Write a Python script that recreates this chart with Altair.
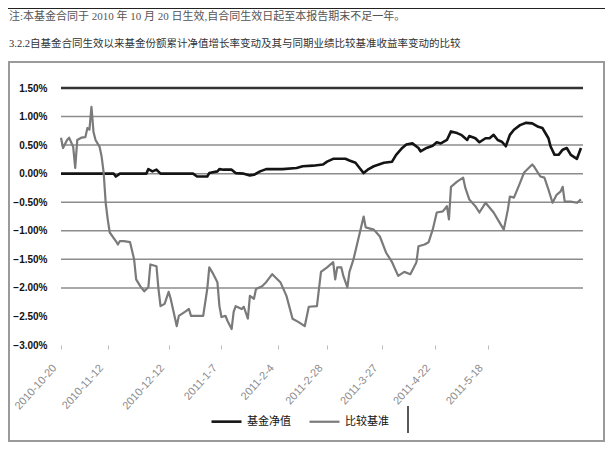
import altair as alt
import pandas as pd

# ---------------- data ----------------
series_names = ["基金净值", "比较基准"]

fund_dates = ["2010-10-20", "2010-11-15", "2010-11-16", "2010-11-18", "2010-12-01", "2010-12-02",
              "2010-12-04", "2010-12-06", "2010-12-08", "2010-12-24", "2010-12-26", "2010-12-31",
              "2011-01-01", "2011-01-05", "2011-01-06", "2011-01-08", "2011-01-12", "2011-01-14",
              "2011-01-18", "2011-01-21", "2011-01-23", "2011-01-26", "2011-01-29", "2011-02-06",
              "2011-02-13", "2011-02-16", "2011-02-21", "2011-02-26", "2011-02-28", "2011-03-03",
              "2011-03-09", "2011-03-11", "2011-03-14", "2011-03-16", "2011-03-18", "2011-03-20",
              "2011-03-23", "2011-03-28", "2011-04-01", "2011-04-03", "2011-04-06", "2011-04-08",
              "2011-04-11", "2011-04-14", "2011-04-15", "2011-04-18", "2011-04-21", "2011-04-23",
              "2011-04-25", "2011-04-28", "2011-04-30", "2011-05-03", "2011-05-05", "2011-05-08",
              "2011-05-09", "2011-05-12", "2011-05-14", "2011-05-17", "2011-05-19", "2011-05-21",
              "2011-05-23", "2011-05-25", "2011-05-27", "2011-05-29", "2011-05-31", "2011-06-03",
              "2011-06-06", "2011-06-09", "2011-06-12", "2011-06-14", "2011-06-17", "2011-06-18",
              "2011-06-20", "2011-06-22", "2011-06-24", "2011-06-26", "2011-06-28", "2011-07-01",
              "2011-07-03"]
fund_vals = [0.00, 0.00, -0.05, 0.00, 0.00, 0.08,
             0.04, 0.07, 0.00, 0.00, -0.05, -0.05,
             0.01, 0.04, 0.08, 0.07, 0.07, 0.01,
             0.00, -0.03, -0.02, 0.04, 0.08, 0.08,
             0.10, 0.13, 0.14, 0.16, 0.21, 0.26,
             0.26, 0.23, 0.19, 0.10, 0.01, 0.07,
             0.13, 0.19, 0.21, 0.33, 0.45, 0.51,
             0.53, 0.45, 0.39, 0.45, 0.49, 0.55,
             0.53, 0.59, 0.74, 0.71, 0.68, 0.59,
             0.66, 0.62, 0.55, 0.62, 0.62, 0.68,
             0.59, 0.56, 0.48, 0.68, 0.77, 0.85,
             0.89, 0.88, 0.82, 0.80, 0.62, 0.48,
             0.33, 0.33, 0.42, 0.45, 0.33, 0.26,
             0.45]

bench_dates = ["2010-10-20", "2010-10-21", "2010-10-23", "2010-10-24", "2010-10-26", "2010-10-27",
               "2010-10-28", "2010-10-30", "2010-11-01", "2010-11-02", "2010-11-03", "2010-11-04",
               "2010-11-05", "2010-11-06", "2010-11-08", "2010-11-09", "2010-11-10", "2010-11-11",
               "2010-11-12", "2010-11-13", "2010-11-16", "2010-11-17", "2010-11-18", "2010-11-20",
               "2010-11-23", "2010-11-25", "2010-11-26", "2010-11-28", "2010-11-30", "2010-12-02",
               "2010-12-03", "2010-12-06", "2010-12-07", "2010-12-08", "2010-12-10", "2010-12-12",
               "2010-12-13", "2010-12-16", "2010-12-17", "2010-12-20", "2010-12-22", "2010-12-23",
               "2010-12-26", "2010-12-29", "2010-12-31", "2011-01-01", "2011-01-03", "2011-01-05",
               "2011-01-06", "2011-01-07", "2011-01-09", "2011-01-10", "2011-01-12", "2011-01-13",
               "2011-01-14", "2011-01-17", "2011-01-18", "2011-01-20", "2011-01-21", "2011-01-23",
               "2011-01-24", "2011-01-27", "2011-01-29", "2011-02-01", "2011-02-05", "2011-02-08",
               "2011-02-11", "2011-02-14", "2011-02-17", "2011-02-19", "2011-02-23", "2011-02-25",
               "2011-02-28", "2011-03-03", "2011-03-04", "2011-03-05", "2011-03-07", "2011-03-08",
               "2011-03-10", "2011-03-11", "2011-03-13", "2011-03-15", "2011-03-18", "2011-03-19",
               "2011-03-23", "2011-03-26", "2011-03-29", "2011-04-01", "2011-04-04", "2011-04-07",
               "2011-04-10", "2011-04-13", "2011-04-14", "2011-04-17", "2011-04-19", "2011-04-21",
               "2011-04-23", "2011-04-26", "2011-04-28", "2011-04-29", "2011-04-30", "2011-05-03",
               "2011-05-06", "2011-05-07", "2011-05-09", "2011-05-12", "2011-05-14", "2011-05-17",
               "2011-05-21", "2011-05-23", "2011-05-26", "2011-05-28", "2011-05-29", "2011-05-31",
               "2011-06-03", "2011-06-05", "2011-06-09", "2011-06-10", "2011-06-13", "2011-06-15",
               "2011-06-17", "2011-06-19", "2011-06-21", "2011-06-23", "2011-06-24", "2011-06-25",
               "2011-06-28", "2011-07-01", "2011-07-03"]
bench_vals = [0.63, 0.45, 0.59, 0.63, 0.47, 0.10,
              0.59, 0.63, 0.64, 0.80, 0.77, 1.17,
              0.73, 0.59, 0.47, 0.30, 0.02, -0.51,
              -0.80, -1.03, -1.18, -1.24, -1.18, -1.18,
              -1.20, -1.50, -1.85, -1.97, -2.06, -1.99,
              -1.59, -1.62, -2.02, -2.32, -2.28, -2.07,
              -2.19, -2.67, -2.49, -2.42, -2.37, -2.49,
              -2.49, -2.49, -2.02, -1.64, -1.76, -1.90,
              -2.32, -2.51, -2.49, -2.58, -2.72, -2.42,
              -2.32, -2.37, -2.33, -2.54, -2.14, -2.19,
              -2.02, -1.97, -1.90, -1.76, -1.90, -2.14,
              -2.54, -2.60, -2.67, -2.33, -2.32, -1.72,
              -1.64, -1.55, -1.85, -1.64, -1.64, -1.79,
              -1.99, -1.72, -1.50, -1.20, -0.75, -0.94,
              -0.98, -1.10, -1.38, -1.55, -1.79, -1.72,
              -1.76, -1.55, -1.27, -1.24, -1.20, -0.98,
              -0.68, -0.66, -0.57, -0.80, -0.23, -0.14,
              -0.07, -0.24, -0.45, -0.57, -0.68, -0.51,
              -0.68, -0.80, -0.98, -0.63, -0.40, -0.42,
              -0.16, 0.02, 0.16, 0.12, -0.05, -0.07,
              -0.28, -0.51, -0.37, -0.31, -0.23, -0.49,
              -0.49, -0.51, -0.45]

y_ticks = [1.5, 1.0, 0.5, 0.0, -0.5, -1.0, -1.5, -2.0, -2.5, -3.0]
grid_vals = [1.0, 0.5, 0.0, -0.5, -1.0, -1.5, -2.0]
top_grid = [1.5]
# dates at which the category labels of the original axis sit
x_tick_dates = [(2010, 10, 20), (2010, 11, 12), (2010, 12, 12), (2011, 1, 7), (2011, 2, 4),
                (2011, 2, 28), (2011, 3, 27), (2011, 4, 22), (2011, 5, 18)]

note_text = "注:本基金合同于 2010 年 10 月 20 日生效,自合同生效日起至本报告期末不足一年。"
section_text = "3.2.2自基金合同生效以来基金份额累计净值增长率变动及其与同期业绩比较基准收益率变动的比较"

# ---------------- build tables ----------------
df = pd.concat([
    pd.DataFrame({"date": pd.to_datetime(fund_dates), "value": fund_vals, "series": series_names[0]}),
    pd.DataFrame({"date": pd.to_datetime(bench_dates), "value": bench_vals, "series": series_names[1]}),
], ignore_index=True)

CJK = "'Liberation Serif', 'Noto Sans CJK SC', sans-serif"
LAT = "'Liberation Sans', 'Noto Sans CJK SC', sans-serif"

y_scale = alt.Scale(domain=[-3.0, 1.5], nice=False, zero=False)
x_scale = alt.Scale(domain=[alt.DateTime(year=2010, month=10, date=20),
                            alt.DateTime(year=2011, month=7, date=4)], nice=False)

y_axis = alt.Axis(values=y_ticks, labelExpr="format(datum.value, '.2f') + '%'",
                  grid=False, domain=False, ticks=False, labelPadding=14,
                  labelFont=LAT, labelFontSize=10, labelFontWeight="bold",
                  labelColor="#111111", title=None)

frame = alt.Chart(pd.DataFrame({"k": [0]})).mark_rect(
    fillOpacity=0, stroke="#9a9a9a", strokeWidth=2
).encode(x=alt.value(-52), x2=alt.value(543), y=alt.value(-26), y2=alt.value(353))

table_line = alt.Chart(pd.DataFrame({"k": [0]})).mark_rule(
    color="#222222", strokeWidth=1.2
).encode(x=alt.value(-53), x2=alt.value(544), y=alt.value(-79.6))

note = alt.Chart(pd.DataFrame({"t": [note_text]})).mark_text(
    align="left", baseline="middle", font=CJK, fontSize=11, color="#555555"
).encode(x=alt.value(-52), y=alt.value(-71), text="t:N")

section = alt.Chart(pd.DataFrame({"t": [section_text]})).mark_text(
    align="left", baseline="middle", font=CJK, fontSize=10.5, color="#333333"
).encode(x=alt.value(-52), y=alt.value(-44), text="t:N")

grid = alt.Chart(pd.DataFrame({"value": grid_vals})).mark_rule(
    color="#8c8c8c", strokeWidth=1.5
).encode(y=alt.Y("value:Q", scale=y_scale, axis=y_axis))

grid_top = alt.Chart(pd.DataFrame({"value": top_grid})).mark_rule(
    color="#333333", strokeWidth=2.5
).encode(y=alt.Y("value:Q", scale=y_scale, axis=y_axis))

lines = alt.Chart(df).mark_line(strokeJoin="round").encode(
    x=alt.X("date:T", scale=x_scale, axis=alt.Axis(
        values=[alt.DateTime(year=y, month=m, date=d) for (y, m, d) in x_tick_dates],
        labelExpr="year(datum.value) + '-' + (month(datum.value) + 1) + '-' + date(datum.value)",
        labelAngle=-48, labelAlign="right", labelBaseline="top",
        labelPadding=13, labelOffset=-11, labelOverlap=False, labelFlush=False,
        domain=False, grid=False, ticks=True, tickSize=4, tickColor="#bbbbbb",
        labelFont=LAT, labelFontSize=11, labelColor="#8a8a8a", title=None)),
    y=alt.Y("value:Q", scale=y_scale, axis=y_axis),
    color=alt.Color("series:N", sort=series_names,
                    scale=alt.Scale(domain=series_names, range=["#141414", "#7a7a7a"]),
                    legend=alt.Legend(orient="none", legendX=149, legendY=317, direction="horizontal",
                                      title=None, symbolType="stroke", symbolSize=900,
                                      symbolStrokeWidth=2, labelFont=CJK, labelFontSize=11,
                                      labelColor="#111111", columnPadding=14, labelLimit=0)),
    strokeWidth=alt.StrokeWidth("series:N", scale=alt.Scale(domain=series_names, range=[2.6, 2.2]),
                                legend=None),
    order=alt.Order("date:T"),
)

cursor = alt.Chart(pd.DataFrame({"k": [0]})).mark_rule(color="#222222", strokeWidth=1.5).encode(
    x=alt.value(347), y=alt.value(318), y2=alt.value(345))

chart = alt.layer(frame, table_line, note, section, grid, grid_top, lines, cursor).properties(
    width=522, height=257,
    autosize=alt.AutoSizeParams(type="none"),
    padding={"left": 53, "top": 80, "right": 22, "bottom": 97},
    background="white",
).configure_view(strokeWidth=0)

chart.save("out.html", embed_options={"renderer": "svg", "actions": False})
